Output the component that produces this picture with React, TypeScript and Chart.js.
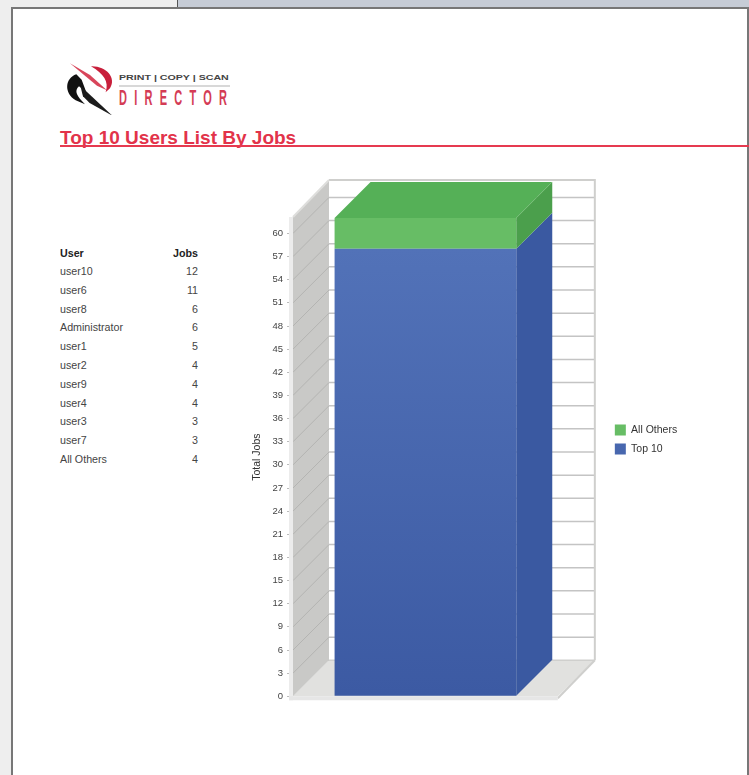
import React, { useEffect, useRef } from "react";
import { Chart, registerables } from "chart.js";

Chart.register(...registerables);

const users = ["user10", "user6", "user8", "Administrator", "user1", "user2", "user9", "user4", "user3", "user7", "All Others"];
const jobs = [12, 11, 6, 6, 5, 4, 4, 4, 3, 3, 4];
const categories = ["Jobs"];
const topTenValues = [58];
const allOthersValues = [4];
const tickStep = 3;
const axisMax = 62;

const FONT = "'Liberation Sans', Arial, sans-serif";
// Offset of the back plane relative to the front plane of the 3D box.
const DEPTH_X = 36;
const DEPTH_Y = -36;

function poly(ctx: CanvasRenderingContext2D, pts: number[][], fill: string | CanvasGradient) {
  ctx.beginPath();
  pts.forEach(([x, y], i) => (i ? ctx.lineTo(x, y) : ctx.moveTo(x, y)));
  ctx.closePath();
  ctx.fillStyle = fill;
  ctx.fill();
}

function line(ctx: CanvasRenderingContext2D, x1: number, y1: number, x2: number, y2: number, color: string, w: number) {
  ctx.beginPath();
  ctx.moveTo(x1, y1);
  ctx.lineTo(x2, y2);
  ctx.strokeStyle = color;
  ctx.lineWidth = w;
  ctx.stroke();
}

// Draws the walls and floor of the box, plus the side and top faces of the stacked bar.
const boxPlugin = {
  id: "box3d",
  beforeDatasetsDraw(chart: any) {
    const { ctx, chartArea: a, scales } = chart;
    const y = scales.y;
    const backL = a.left + DEPTH_X;
    const backR = a.right + DEPTH_X + 1;
    const wallTop = a.top - 38;
    const floorY = a.bottom + DEPTH_Y;
    ctx.save();

    // Floor
    poly(ctx, [[a.left, a.bottom], [backL, floorY], [backR, floorY], [a.right, a.bottom]], "#e1e1df");

    // Side wall
    poly(ctx, [[a.left, a.bottom], [backL, floorY], [backL, wallTop], [a.left, a.top - 1]], "#c9c9c7");

    // Grid lines across the side wall and the back wall
    y.ticks.forEach((t: any) => {
      if (t.value === 0) return;
      const p = y.getPixelForValue(t.value);
      line(ctx, a.left, p, backL, p + DEPTH_Y, "#b4b4b2", 1);
      line(ctx, backL, p + DEPTH_Y, backR, p + DEPTH_Y, "#c4c4c4", 1.5);
    });

    // Box outline
    line(ctx, backL, wallTop, backR, wallTop, "#cfcfcd", 2);
    line(ctx, backR, wallTop - 1, backR, floorY, "#cfcfcd", 2);
    line(ctx, backL, floorY, backR, floorY, "#cfcfcd", 1.5);
    line(ctx, backR, floorY, a.right, a.bottom + 2, "#cfcfcd", 2);
    line(ctx, a.left - 2, a.top - 1, a.left - 2, a.bottom + 4, "#ececec", 4);
    line(ctx, a.left - 4, a.bottom + 2, a.right, a.bottom + 2, "#e6e6e6", 4);
    line(ctx, a.left, a.top - 1, backL, wallTop, "#dededc", 2);

    // Extruded faces of each stacked segment
    const faces = [
      { side: "#3a59a1", top: "#4f70b7" },
      { side: "#4b9f4c", top: "#55b057" },
    ];
    chart.data.datasets.forEach((_: any, i: number) => {
      const bar = chart.getDatasetMeta(i).data[0];
      const right = bar.x + bar.width / 2;
      const left = bar.x - bar.width / 2;
      poly(ctx, [[right, bar.base], [right + DEPTH_X, bar.base + DEPTH_Y], [right + DEPTH_X, bar.y + DEPTH_Y], [right, bar.y]], faces[i].side);
      if (i === chart.data.datasets.length - 1) {
        poly(ctx, [[left, bar.y], [left + DEPTH_X, bar.y + DEPTH_Y], [right + DEPTH_X, bar.y + DEPTH_Y], [right, bar.y]], faces[i].top);
      }
    });
    ctx.restore();
  },
};

const cell: React.CSSProperties = { position: "absolute", fontFamily: FONT, fontSize: 10.7, lineHeight: "12px", color: "#444", whiteSpace: "nowrap" };

function Logo() {
  return (
    <svg width="63.3" height="60" viewBox="0 0 190 180" style={{ position: "absolute", left: 55, top: 55 }}>
      <path d="M45 25 L105 60 L156 106 L126 92 Z" fill="#d8455a" />
      <path d="M108 34 C152 32 186 68 165 100 L152 112 C163 80 146 56 108 34 Z" fill="#c81f3b" />
      <path d="M64 58 C30 70 26 114 62 136 L90 148 C66 124 56 108 72 94 L94 112 L80 74 Z" fill="#111" />
      <path d="M76 92 L172 182 L104 144 L84 124 Z" fill="#1c1c1c" />
    </svg>
  );
}

export default function App() {
  const ref = useRef<HTMLCanvasElement>(null);

  useEffect(() => {
    const ctx = ref.current!.getContext("2d")!;
    const blue = ctx.createLinearGradient(0, 71, 0, 517);
    blue.addColorStop(0, "#5272b8");
    blue.addColorStop(1, "#3c5aa3");
    const chart = new Chart(ref.current!, {
      type: "bar",
      data: {
        labels: categories,
        datasets: [
          { label: "Top 10", data: topTenValues, backgroundColor: blue, stack: "s" },
          { label: "All Others", data: allOthersValues, backgroundColor: "#67bd65", stack: "s" },
        ],
      },
      plugins: [boxPlugin],
      options: {
        animation: false,
        responsive: false,
        layout: { padding: { top: 0, bottom: 5, left: 11, right: 0 } },
        datasets: { bar: { barPercentage: 0.686, categoryPercentage: 1 } },
        plugins: {
          tooltip: { enabled: false },
          legend: {
            position: "right",
            reverse: true,
            labels: {
              boxWidth: 11,
              boxHeight: 11,
              padding: 8,
              color: "#333",
              font: { family: FONT, size: 10.5 },
            },
          },
        },
        scales: {
          // Top axis reserves the room taken by the depth of the box.
          x: {
            position: "top",
            stacked: true,
            ticks: { display: false },
            grid: { display: false },
            border: { display: false },
            afterFit: (s: any) => { s.height = 40; },
          },
          y: {
            stacked: true,
            min: 0,
            max: axisMax,
            title: { display: true, text: "Total Jobs", color: "#333", font: { family: FONT, size: 10.5 }, padding: 0 },
            ticks: { stepSize: tickStep, includeBounds: false, color: "#444", font: { family: FONT, size: 9.5 }, padding: 4, autoSkip: false },
            grid: { drawOnChartArea: false, color: "#bbb", tickLength: 6 },
            border: { display: false },
            afterFit: (s: any) => { s.width = 42; },
          },
          // Right axis keeps the legend clear of the box.
          y2: {
            position: "right",
            display: true,
            min: 0,
            max: axisMax,
            ticks: { display: false },
            grid: { display: false },
            border: { display: false },
            afterFit: (s: any) => { s.width = 49; },
          },
        },
      } as any,
    });
    return () => chart.destroy();
  }, []);

  return (
    <div style={{ position: "fixed", left: 0, top: 0, width: 749, height: 775, overflow: "hidden", background: "#eeeeee" }}>
      <div style={{ position: "absolute", left: 177, top: 0, width: 572, height: 8, background: "#c6ccd6", borderLeft: "1px solid #555" }} />
      <div style={{ position: "absolute", left: 11, top: 7, width: 738, height: 780, background: "#fff", border: "2px solid #777", boxSizing: "border-box" }} />

      <Logo />
      <div style={{ ...cell, left: 119, top: 72, fontSize: 8, fontWeight: 700, color: "#444", transform: "scaleX(1.33)", transformOrigin: "left" }}>PRINT | COPY | SCAN</div>
      <div style={{ position: "absolute", left: 119, top: 85, width: 111, height: 2, background: "#d8d8d8" }} />
      <div style={{ ...cell, left: 119, top: 87, fontSize: 22, lineHeight: "22px", fontWeight: 700, color: "#d43c55", letterSpacing: 14.5, transform: "scaleX(0.5)", transformOrigin: "left" }}>DIRECTOR</div>

      <div style={{ ...cell, left: 60, top: 128, fontSize: 19, lineHeight: "20px", fontWeight: 700, color: "#e2334a", textDecoration: "underline" }}>Top 10 Users List By Jobs</div>
      <div style={{ position: "absolute", left: 60, top: 145, width: 689, height: 2, background: "#e63a50" }} />

      <div style={{ ...cell, left: 60, top: 247, fontWeight: 700, color: "#222" }}>User</div>
      <div style={{ ...cell, right: 749 - 198, top: 247, fontWeight: 700, color: "#222" }}>Jobs</div>
      {users.map((u, i) => (
        <div key={u}>
          <div style={{ ...cell, left: 60, top: 265 + i * 18.8 }}>{u}</div>
          <div style={{ ...cell, right: 749 - 198, top: 265 + i * 18.8 }}>{jobs[i]}</div>
        </div>
      ))}

      <canvas ref={ref} width={438} height={528} style={{ position: "absolute", left: 240, top: 178 }} />
    </div>
  );
}
